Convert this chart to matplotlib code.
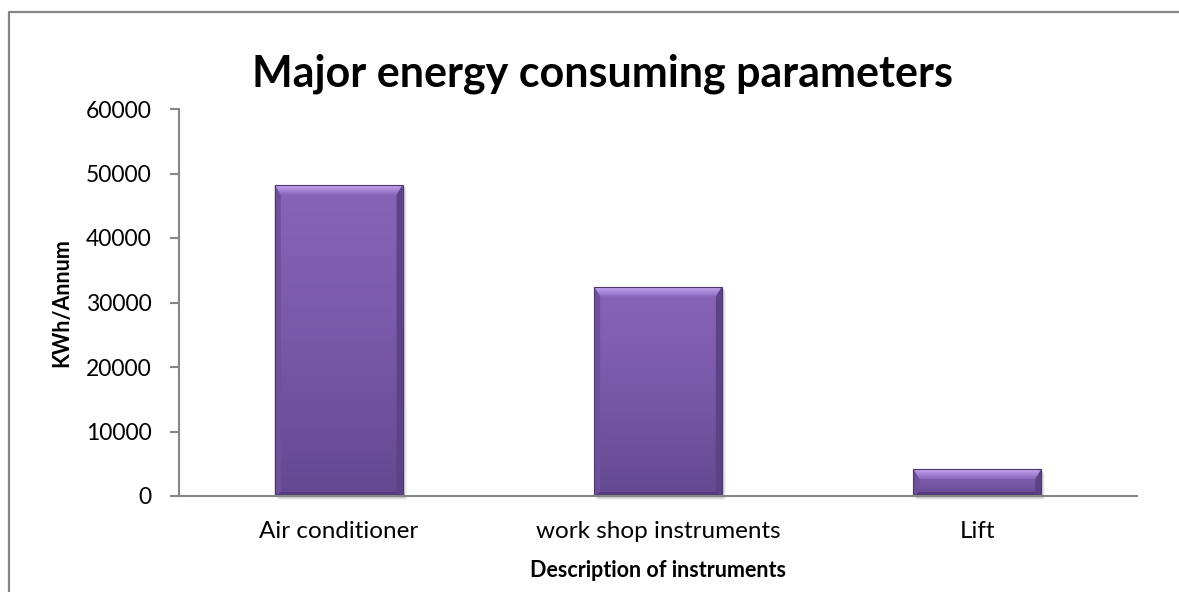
import matplotlib
matplotlib.use("Agg")
import matplotlib.pyplot as plt
import numpy as np
from matplotlib.patches import Rectangle, Polygon
from matplotlib.lines import Line2D

plt.rcParams['font.family'] = ['Lato', 'DejaVu Sans']

categories = ["Air conditioner", "work shop instruments", "Lift"]
values = [48200, 32450, 4140]
y_ticks = [0, 10000, 20000, 30000, 40000, 50000, 60000]

title = "Major energy consuming parameters"
x_label = "Description of instruments"
y_label = "KWh/Annum"

W, H = 1179, 592
fig = plt.figure(figsize=(W / 100, H / 100), dpi=100)
fig.patch.set_facecolor("white")
fig.patch.set_edgecolor("white")
fig.patch.set_linewidth(0)

# outer chart frame: only left and top edges fall inside the canvas
fx, fy = 8.5 / W, (H - 11.5) / H
fig.add_artist(Line2D([fx, fx, 1.0], [0.0, fy, fy], transform=fig.transFigure,
                      color="#868686", linewidth=1.6, solid_capstyle="butt"))

ax_l, ax_r, ax_b, ax_t = 179, 1137, 496, 109
ax = fig.add_axes([ax_l / W, (H - ax_b) / H, (ax_r - ax_l) / W, (ax_b - ax_t) / H])
ax.set_xlim(-0.5, len(categories) - 0.5)
ax.set_ylim(0, 60000)

x = np.arange(len(categories))
bar_w = 0.4

# data units per pixel
px = (len(categories)) / (ax_r - ax_l)
py = 60000 / (ax_b - ax_t)

grad = np.linspace(0, 1, 256).reshape(-1, 1)
body_cmap = matplotlib.colors.LinearSegmentedColormap.from_list(
    "body", ["#644891", "#7a58a8", "#8864b8"])
top_cmap = matplotlib.colors.LinearSegmentedColormap.from_list(
    "topbevel", ["#8a66bb", "#c6a6f2"])

bars = ax.bar(x, values, width=bar_w, color="#7656a4", edgecolor="none", zorder=2)
for bar in bars:
    x0 = bar.get_x()
    x1 = x0 + bar.get_width()
    top = bar.get_height()
    # soft drop shadow
    for i, a in enumerate([0.10, 0.07, 0.04]):
        ax.add_patch(Rectangle((x0 + (2 + i) * px, -(2 + i) * py), x1 - x0, top,
                               facecolor="black", alpha=a, edgecolor="none",
                               zorder=1.5, clip_on=False))
    im = ax.imshow(grad, extent=[x0, x1, 0, top], origin="lower", cmap=body_cmap,
                   aspect="auto", zorder=2.1, interpolation="bilinear")
    im.set_clip_path(bar)
    b = 10
    bs = 6
    bb = 4
    # bevels: top highlight, side and bottom shading
    top_poly = Polygon([(x0, top), (x1, top), (x1 - bs * px, top - b * py),
                        (x0 + bs * px, top - b * py)],
                       facecolor="none", edgecolor="none", zorder=2.3)
    ax.add_patch(top_poly)
    tim = ax.imshow(grad, extent=[x0, x1, top - b * py, top], origin="lower",
                    cmap=top_cmap, aspect="auto", zorder=2.3, interpolation="bilinear")
    tim.set_clip_path(top_poly)
    ax.add_patch(Polygon([(x0, top), (x0 + bs * px, top - b * py),
                          (x0 + bs * px, bb * py), (x0, 0)],
                         facecolor="#6e509c", edgecolor="none", zorder=2.3))
    ax.add_patch(Polygon([(x1, top), (x1 - bs * px, top - b * py),
                          (x1 - bs * px, bb * py), (x1, 0)],
                         facecolor="#5c4386", edgecolor="none", zorder=2.3))
    ax.add_patch(Polygon([(x0, 0), (x1, 0), (x1 - bs * px, bb * py), (x0 + bs * px, bb * py)],
                         facecolor="#533c7a", edgecolor="none", zorder=2.3))
    ax.add_patch(Rectangle((x0, 0), x1 - x0, top, fill=False,
                           edgecolor="#4b3670", linewidth=0.8, zorder=2.4))

for s in ["top", "right"]:
    ax.spines[s].set_visible(False)
for s in ["left", "bottom"]:
    ax.spines[s].set_color("#868686")
    ax.spines[s].set_linewidth(1.5)
    ax.spines[s].set_zorder(3)

ax.set_yticks(y_ticks)
ax.set_yticklabels([str(v) for v in y_ticks])
ax.set_xticks(x)
ax.set_xticklabels(categories)
ax.tick_params(axis="y", direction="out", length=6.5, width=1.5, color="#868686",
               labelsize=16.5, pad=13)
ax.tick_params(axis="x", length=0, labelsize=17.5, pad=18)

ax.set_xlabel(x_label, fontsize=15.5, fontweight="bold", labelpad=13)
ax.set_ylabel(y_label, fontsize=15.5, fontweight="bold", labelpad=10)

fig.text(602 / W, (H - 74) / H, title, ha="center", va="center",
         fontsize=31, fontweight="bold")

fig.savefig("out.png", dpi=100, facecolor="white", edgecolor="white")
